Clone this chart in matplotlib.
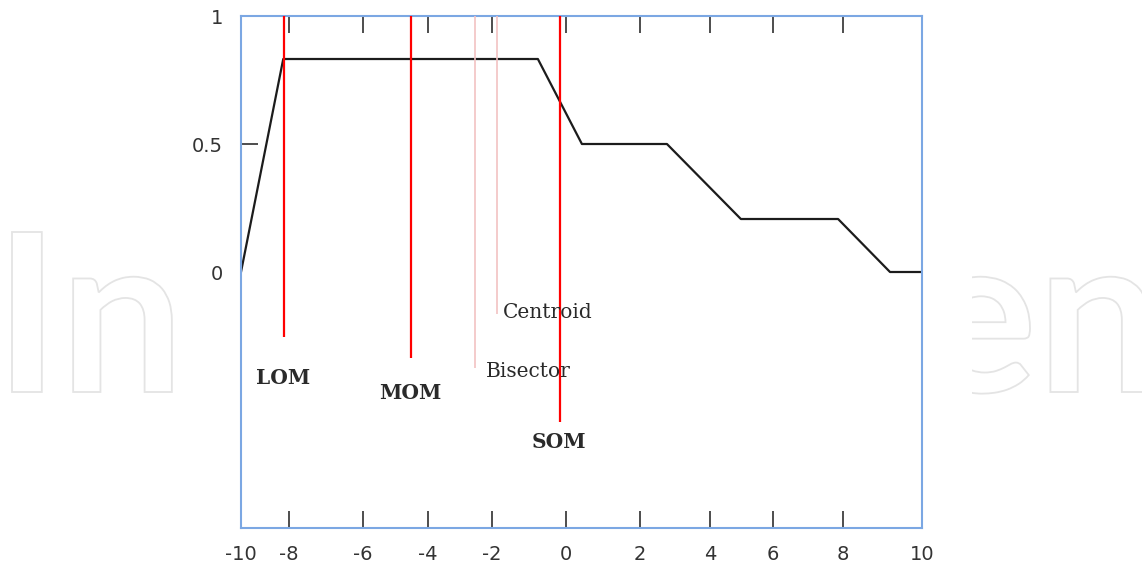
import numpy as np
import matplotlib
matplotlib.use("Agg")
import matplotlib.pyplot as plt
from matplotlib.font_manager import FontProperties
from matplotlib.textpath import TextPath
from matplotlib.patches import PathPatch, Rectangle
from matplotlib.transforms import Affine2D

# aggregated membership function (x, mu)
curve_x = [-10, -8.24, -0.76, 0.43, 2.77, 4.98, 7.86, 9.19, 10]
curve_y = [0, 0.832, 0.832, 0.5, 0.5, 0.207, 0.207, 0, 0]

# defuzzified results, drawn as vertical lines from mu=1 down to line_bottom
methods = ["LOM", "MOM", "Bisector", "Centroid", "SOM"]
method_x = [-8.22, -4.53, -2.52, -1.87, -0.15]
line_bottom = [-0.253, -0.337, -0.376, -0.165, -0.585]

# the x axis of the source picture is not evenly spaced, so map each tick label to where it sits
tick_vals = [-10, -8, -6, -4, -2, 0, 2, 4, 6, 8, 10]
tick_pos = [241, 289, 363, 428, 492, 566, 640, 710, 773, 843, 922]
ytick_vals = [0, 0.5, 1]


def fwd(v):
    return np.interp(v, tick_vals, tick_pos)


def inv(p):
    return np.interp(p, tick_pos, tick_vals)


W, H = 1142, 568
fig = plt.figure(figsize=(W / 100, H / 100), dpi=100)

# watermark in outline letters, only visible outside the chart picture
fp = FontProperties(family="Lato", weight="bold")
wm = TextPath((0, 0), "IntechOpen", size=100, prop=fp)
cap = TextPath((0, 0), "I", size=100, prop=fp).get_extents()
ext = TextPath((0, 0), "IntechOpe", size=100, prop=fp).get_extents()
sx = (1030 - 12) / (ext.x1 - cap.x0)
sy = (392 - 232) / cap.y1
tr = Affine2D().translate(-cap.x0, 0).scale(sx, sy).translate(12, H - 392)
fig.add_artist(PathPatch(wm, transform=tr, facecolor="white", edgecolor="#e4e4e4",
                         lw=1.3, zorder=-2))
fig.add_artist(Rectangle((183 / W, 0), (972 - 183) / W, 1, transform=fig.transFigure,
                         facecolor="white", edgecolor="none", zorder=-1))

ax = fig.add_axes([241 / W, 1 - 528 / H, (922 - 241) / W, (528 - 16) / H])
ax.set_xscale("function", functions=(fwd, inv))
ax.set_xlim(-10, 10)
ax.set_ylim(-1, 1)

ax.plot(curve_x, curve_y, color="#1c1c1c", lw=1.6, zorder=2)

colors = ["red", "red", "#f2c2c2", "#f2c2c2", "red"]
widths = [1.6, 1.6, 1.2, 1.2, 1.6]
for x, b, c, w in zip(method_x, line_bottom, colors, widths):
    ax.vlines(x, b, 1, color=c, lw=w, zorder=3)

# label placement (x, y, ha, bold)
label_pos = [(-8.25, -0.414, "center", True),
             (-4.53, -0.473, "center", True),
             (-2.19, -0.39, "left", False),
             (-1.70, -0.16, "left", False),
             (-0.19, -0.664, "center", True)]
for name, (x, y, ha, bold) in zip(methods, label_pos):
    ax.text(x, y, name, ha=ha, va="center", family="DejaVu Serif", fontsize=14.5,
            fontweight="bold" if bold else "normal", color="#2a2a2a", zorder=4)

ax.xaxis.remove_overlapping_locs = False
ax.yaxis.remove_overlapping_locs = False
ax.set_xticks(tick_vals)
ax.set_xticklabels([str(v) for v in tick_vals])
ax.set_xticks(tick_vals[1:-1], minor=True)
ax.set_yticks(ytick_vals)
ax.set_yticklabels(["0", "0.5", "1"])
ax.set_yticks([0.5], minor=True)

ax.tick_params(which="major", length=0, labelsize=14, labelcolor="#333333")
ax.tick_params(axis="x", which="major", pad=12)
ax.tick_params(axis="y", which="major", pad=13)
ax.tick_params(which="minor", direction="in", length=12, width=1.1, color="#1c1c1c")
ax.tick_params(axis="x", which="minor", top=True, bottom=True)

for s in ax.spines.values():
    s.set_color("#7ba7e3")
    s.set_linewidth(1.5)

fig.savefig("out.png", dpi=100)
